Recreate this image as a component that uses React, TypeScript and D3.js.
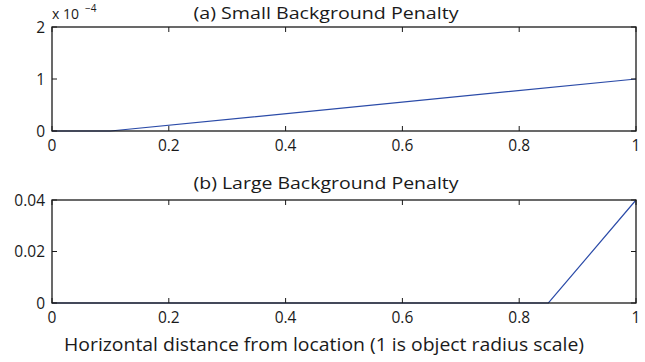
import React from "react";
import * as d3 from "d3";

const xTicks = [0, 0.2, 0.4, 0.6, 0.8, 1];
const xTickLabels = ["0", "0.2", "0.4", "0.6", "0.8", "1"];

const smallX = [0, 0.1, 1];
const smallY = [0, 0, 1]; // ×10^-4
const smallYTicks = [0, 1, 2];
const smallYTickLabels = ["0", "1", "2"];

const largeX = [0, 0.85, 1];
const largeY = [0, 0, 0.04];
const largeYTicks = [0, 0.02, 0.04];
const largeYTickLabels = ["0", "0.02", "0.04"];

const titleA = "(a) Small Background Penalty";
const titleB = "(b) Large Background Penalty";
const xLabel = "Horizontal distance from location (1 is object radius scale)";

const FONT = "'Open Sans', sans-serif";
const W = 645;
const H = 362;
const left = 52;
const right = 636;
const INK = "#1a1a1a";

type PanelProps = {
  top: number;
  bottom: number;
  xs: number[];
  ys: number[];
  yDomain: [number, number];
  yTicks: number[];
  yTickLabels: string[];
  title: string;
  titleY: number;
};

function Panel({ top, bottom, xs, ys, yDomain, yTicks, yTickLabels, title, titleY }: PanelProps) {
  const x = d3.scaleLinear().domain([0, 1]).range([left, right]);
  const y = d3.scaleLinear().domain(yDomain).range([bottom, top]);
  const line = d3
    .line<number>()
    .x((_, i) => x(xs[i]))
    .y((d) => y(d));
  const tl = 5;
  return (
    <g>
      <text
        x={326}
        y={titleY}
        textAnchor="middle"
        fontSize={17}
        fontFamily={FONT}
        fill={INK}
        textLength={265}
        lengthAdjust="spacingAndGlyphs"
      >
        {title}
      </text>
      <path d={line(ys) || ""} fill="none" stroke="#2b4ba8" strokeWidth={1.2} />
      <rect x={left} y={top} width={right - left} height={bottom - top} fill="none" stroke={INK} strokeWidth={1.3} />
      {xTicks.map((t, i) => (
        <g key={"x" + i}>
          <line x1={x(t)} x2={x(t)} y1={bottom} y2={bottom - tl} stroke={INK} />
          <line x1={x(t)} x2={x(t)} y1={top} y2={top + tl} stroke={INK} />
          <text x={x(t)} y={bottom + 20} textAnchor="middle" fontSize={15.5} fontFamily={FONT} fill={INK}>
            {xTickLabels[i]}
          </text>
        </g>
      ))}
      {yTicks.map((t, i) => (
        <g key={"y" + i}>
          <line x1={left} x2={left + tl} y1={y(t)} y2={y(t)} stroke={INK} />
          <line x1={right} x2={right - tl} y1={y(t)} y2={y(t)} stroke={INK} />
          <text x={left - 7} y={y(t) + 5.5} textAnchor="end" fontSize={15.5} fontFamily={FONT} fill={INK}>
            {yTickLabels[i]}
          </text>
        </g>
      ))}
    </g>
  );
}

export default function App() {
  return (
    <svg width={W} height={H} style={{ position: "absolute", left: 0, top: 0, background: "#fff" }}>
      <rect width={W} height={H} fill="#fff" />
      <Panel
        top={27}
        bottom={131}
        xs={smallX}
        ys={smallY}
        yDomain={[0, 2]}
        yTicks={smallYTicks}
        yTickLabels={smallYTickLabels}
        title={titleA}
        titleY={19}
      />
      <text x={52} y={19} fontSize={14} fontFamily={FONT} fill={INK}>
        x 10
      </text>
      <text x={85} y={12} fontSize={10} fontFamily={FONT} fill={INK}>
        −4
      </text>
      <Panel
        top={200}
        bottom={303}
        xs={largeX}
        ys={largeY}
        yDomain={[0, 0.04]}
        yTicks={largeYTicks}
        yTickLabels={largeYTickLabels}
        title={titleB}
        titleY={189}
      />
      <text
        x={324}
        y={351}
        textAnchor="middle"
        fontSize={17.5}
        fontFamily={FONT}
        fill={INK}
        textLength={520}
        lengthAdjust="spacingAndGlyphs"
      >
        {xLabel}
      </text>
    </svg>
  );
}
